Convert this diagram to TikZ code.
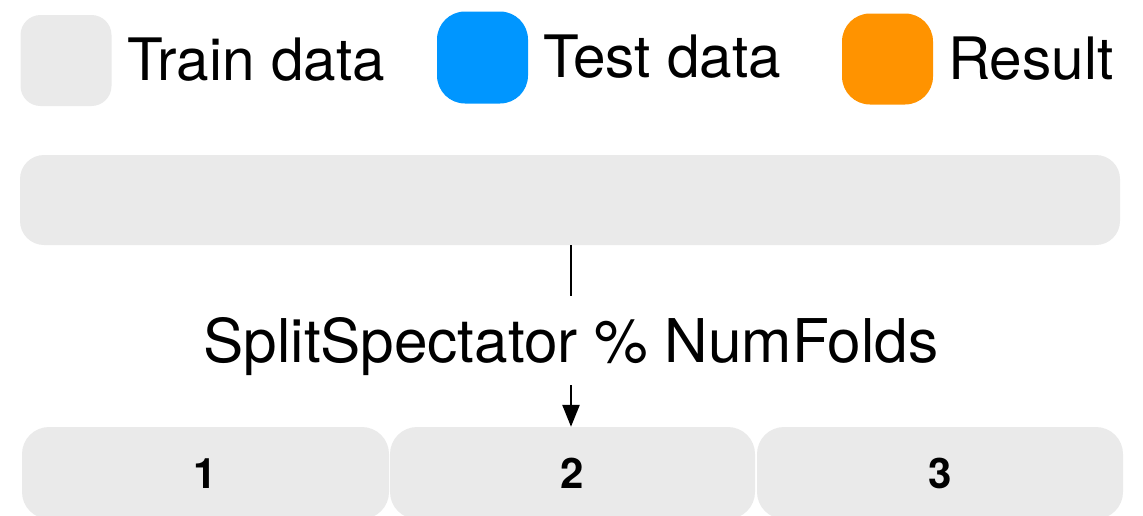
\documentclass[tikz,border=0pt]{standalone}
\usepackage{fontspec}
\setmainfont{TeX Gyre Heros}
\usetikzlibrary{arrows.meta}

\definecolor{traingray}{HTML}{EAEAEA}
\definecolor{testblue}{HTML}{0096FF}
\definecolor{resultorange}{HTML}{FF9300}

\tikzset{
  swatch/.style={rectangle, draw=none, minimum width=91pt, minimum height=91pt, inner sep=0pt},
  legendtext/.style={anchor=base west, inner sep=0pt, font=\fontsize{58.5}{62}\selectfont},
  databar/.style={rectangle, draw=none, fill=traingray, rounded corners=24pt,
    minimum width=1100pt, minimum height=90pt, inner sep=0pt},
  foldbox/.style={rectangle, draw=none, fill=traingray, rounded corners=27pt,
    minimum height=92pt, inner sep=0pt, font=\fontsize{42}{44}\selectfont\bfseries},
  splittext/.style={anchor=base, inner sep=0pt, font=\fontsize{60.3}{64}\selectfont},
  link/.style={line width=2.5pt, black},
}

\begin{document}
\begin{tikzpicture}[x=1pt, y=-1pt]
  \useasboundingbox (0,0) rectangle (1143,515);
  \clip (0,0) rectangle (1143,515);

  % legend
  \node[swatch, fill=traingray, rounded corners=20pt] (kTrain) at (66,60.5) {};
  \node[legendtext] (lTrain) at (127,80) {Train data};
  \node[swatch, fill=testblue, rounded corners=28pt, minimum height=92pt] (kTest) at (482.5,57.5) {};
  \node[legendtext] (lTest) at (543,77) {Test data};
  \node[swatch, fill=resultorange, rounded corners=28pt] (kResult) at (887.5,59) {};
  \node[legendtext] (lResult) at (948,79) {Result};

  % full training set
  \node[databar] (full) at (570,200) {};

  % splitting rule
  \node[splittext] (split) at (571,362) {SplitSpectator \% NumFolds};

  % folds
  \node[foldbox, minimum width=367pt] (fold1) at (205.5,473) {};
  \node[foldbox, minimum width=365pt] (fold2) at (572.5,473) {};
  \node[foldbox, minimum width=366pt] (fold3) at (940,473) {};
  \foreach \k in {1,2,3}
    \node[inner sep=0pt, anchor=base, font=\fontsize{42}{44}\selectfont\bfseries]
      (num\k) at (fold\k.center |- 0,488) {\k};

  % connectors
  \draw[link, shorten >=21pt] (full.south -| split.north) -- (split.north);
  \draw[link, shorten <=10pt, -{Triangle[length=22pt, width=17pt]}]
    (split.south) -- (split.south |- fold2.north);
\end{tikzpicture}
\end{document}
